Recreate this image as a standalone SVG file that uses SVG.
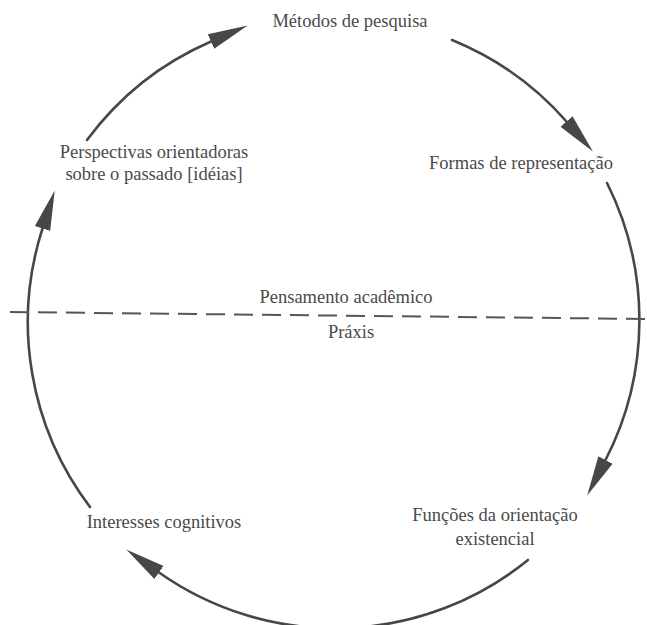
<svg xmlns="http://www.w3.org/2000/svg" width="647" height="625" viewBox="0 0 647 625">
  <style>
    .lbl { font-family: "Liberation Serif", "Times New Roman", serif; font-size: 18.5px; fill: #4a4a4a; text-anchor: middle; }
    .arc { fill: none; stroke: #474747; stroke-width: 2.6; stroke-linecap: round; }
    .sep { fill: none; stroke: #555; stroke-width: 2; stroke-dasharray: 19 9; }
  </style>
  <defs>
    <marker id="ah" markerUnits="userSpaceOnUse" markerWidth="44" markerHeight="20" refX="0" refY="8" orient="auto" viewBox="0 0 44 16">
      <path d="M0,0 L40,8 L0,16 z" fill="#474747"/>
    </marker>
  </defs>
  <rect width="647" height="625" fill="#fff"/>

  <g id="connectors">
    <path class="arc" d="M87,140 A306,306 0 0 1 211,41.5" marker-end="url(#ah)"/>
    <path class="arc" d="M452,40 A306,306 0 0 1 566.5,121.5" marker-end="url(#ah)"/>
    <path class="arc" d="M607,183 A306,306 0 0 1 605.5,460" marker-end="url(#ah)"/>
    <path class="arc" d="M528,560 A306,306 0 0 1 159,572.5" marker-end="url(#ah)"/>
    <path class="arc" d="M90,507 A306,306 0 0 1 42.5,228.5" marker-end="url(#ah)"/>
    <path class="sep" d="M10,312 L647,319"/>
  </g>

  <g id="metodos"><text class="lbl" x="350" y="27">Métodos de pesquisa</text></g>
  <g id="formas"><text class="lbl" x="521" y="169">Formas de representação</text></g>
  <g id="perspectivas">
    <text class="lbl" x="154" y="158">Perspectivas orientadoras</text>
    <text class="lbl" x="154" y="180">sobre o passado [idéias]</text>
  </g>
  <g id="pensamento"><text class="lbl" x="346" y="303">Pensamento acadêmico</text></g>
  <g id="praxis"><text class="lbl" x="351" y="338">Práxis</text></g>
  <g id="funcoes">
    <text class="lbl" x="495" y="521">Funções da orientação</text>
    <text class="lbl" x="495" y="545">existencial</text>
  </g>
  <g id="interesses"><text class="lbl" x="164" y="528">Interesses cognitivos</text></g>
</svg>
